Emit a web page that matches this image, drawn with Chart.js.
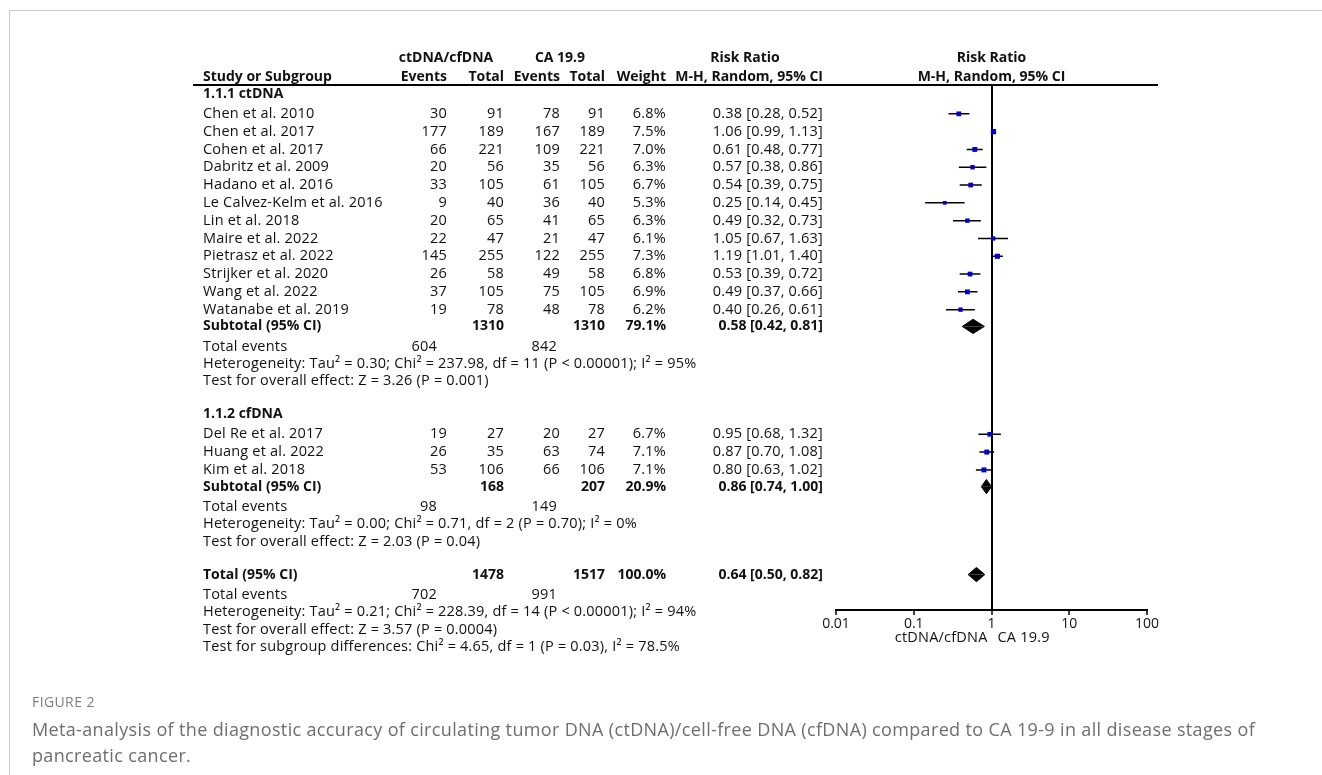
<!DOCTYPE html>
<html>
<head>
<meta charset="utf-8">
<script src="https://cdn.jsdelivr.net/npm/chart.js@4.4.1/dist/chart.umd.min.js"></script>
<style>
  body { margin: 0; background: #fff; }
  #wrap { position: relative; width: 1322px; height: 775px; overflow: hidden; }
  #frame { position: absolute; left: 9px; top: 10px; width: 1320px; height: 770px;
           border-left: 1px solid #c8c8c8; border-top: 1px solid #c8c8c8; }
  canvas { position: absolute; left: 0; top: 0; }
  .fig { position: absolute; left: 32px; top: 694px; font: 14px/16px "Open Sans", sans-serif; letter-spacing: 0.4px; color: #7d7d7d; }
  .cap { position: absolute; left: 32px; top: 716px; font: 18px/26px "Open Sans", sans-serif; letter-spacing: 0.35px; color: #6e6e6e; white-space: nowrap; }
</style>
</head>
<body>
<div id="wrap">
  <div id="frame"></div>
  <canvas id="forest" width="1322" height="775"></canvas>
  <div class="fig">FIGURE 2</div>
  <div class="cap">Meta-analysis of the diagnostic accuracy of circulating tumor DNA (ctDNA)/cell-free DNA (cfDNA) compared to CA 19-9 in all disease stages of<br>pancreatic cancer.</div>
</div>
<script>
// study level data
const groupNames = ['1.1.1 ctDNA', '1.1.2 cfDNA'];
const studies = ['Chen et al. 2010', 'Chen et al. 2017', 'Cohen et al. 2017', 'Dabritz et al. 2009',
  'Hadano et al. 2016', 'Le Calvez-Kelm et al. 2016', 'Lin et al. 2018', 'Maire et al. 2022',
  'Pietrasz et al. 2022', 'Strijker et al. 2020', 'Wang et al. 2022', 'Watanabe et al. 2019',
  'Del Re et al. 2017', 'Huang et al. 2022', 'Kim et al. 2018'];
const studyGroup = [0, 0, 0, 0, 0, 0, 0, 0, 0, 0, 0, 0, 1, 1, 1];
const expEvents = [30, 177, 66, 20, 33, 9, 20, 22, 145, 26, 37, 19, 19, 26, 53];
const expTotal = [91, 189, 221, 56, 105, 40, 65, 47, 255, 58, 105, 78, 27, 35, 106];
const ctrlEvents = [78, 167, 109, 35, 61, 36, 41, 21, 122, 49, 75, 48, 20, 63, 66];
const ctrlTotal = [91, 189, 221, 56, 105, 40, 65, 47, 255, 58, 105, 78, 27, 74, 106];
const weights = [6.8, 7.5, 7.0, 6.3, 6.7, 5.3, 6.3, 6.1, 7.3, 6.8, 6.9, 6.2, 6.7, 7.1, 7.1];
const rr = [0.38, 1.06, 0.61, 0.57, 0.54, 0.25, 0.49, 1.05, 1.19, 0.53, 0.49, 0.40, 0.95, 0.87, 0.80];
const rrLow = [0.28, 0.99, 0.48, 0.38, 0.39, 0.14, 0.32, 0.67, 1.01, 0.39, 0.37, 0.26, 0.68, 0.70, 0.63];
const rrHigh = [0.52, 1.13, 0.77, 0.86, 0.75, 0.45, 0.73, 1.63, 1.40, 0.72, 0.66, 0.61, 1.32, 1.08, 1.02];

// subgroup summaries
const subExpTotal = [1310, 168];
const subCtrlTotal = [1310, 207];
const subWeight = [79.1, 20.9];
const subRR = [0.58, 0.86];
const subLow = [0.42, 0.74];
const subHigh = [0.81, 1.00];
const subExpEvents = [604, 98];
const subCtrlEvents = [842, 149];
const subHet = ['Heterogeneity: Tau² = 0.30; Chi² = 237.98, df = 11 (P < 0.00001); I² = 95%',
  'Heterogeneity: Tau² = 0.00; Chi² = 0.71, df = 2 (P = 0.70); I² = 0%'];
const subTest = ['Test for overall effect: Z = 3.26 (P = 0.001)', 'Test for overall effect: Z = 2.03 (P = 0.04)'];

// overall
const totExpTotal = 1478, totCtrlTotal = 1517, totWeight = 100.0;
const totRR = 0.64, totLow = 0.50, totHigh = 0.82;
const totExpEvents = 702, totCtrlEvents = 991;
const totHet = 'Heterogeneity: Tau² = 0.21; Chi² = 228.39, df = 14 (P < 0.00001); I² = 94%';
const totTest = 'Test for overall effect: Z = 3.57 (P = 0.0004)';
const subgroupTest = 'Test for subgroup differences: Chi² = 4.65, df = 1 (P = 0.03), I² = 78.5%';

const axisTicks = [0.01, 0.1, 1, 10, 100];
const favourLeft = 'ctDNA/cfDNA';
const favourRight = 'CA 19.9';

// row layout (in row units, top to bottom)
const rows = [];
let r = 0.5;
groupNames.forEach((g, gi) => {
  rows.push({ r: r, kind: 'group', gi: gi });
  r += 1.12;
  studies.forEach((s, i) => {
    if (studyGroup[i] === gi) { rows.push({ r: r, kind: 'study', i: i }); r += 1; }
  });
  r -= 0.06;
  rows.push({ r: r, kind: 'subtotal', gi: gi }); r += 1.14;
  rows.push({ r: r, kind: 'events', gi: gi }); r += 0.94;
  rows.push({ r: r, kind: 'het', gi: gi }); r += 1;
  rows.push({ r: r, kind: 'test', gi: gi }); r += 1.86;
});
rows.push({ r: r, kind: 'total' }); r += 1.14;
rows.push({ r: r, kind: 'totEvents' }); r += 0.94;
rows.push({ r: r, kind: 'totHet' }); r += 1;
rows.push({ r: r, kind: 'totTest' }); r += 1;
rows.push({ r: r, kind: 'subgroupTest' });

const fmt2 = v => v.toFixed(2);
const ciText = (e, l, h) => fmt2(e) + ' [' + fmt2(l) + ', ' + fmt2(h) + ']';

// marks
const squares = [];
const ciLines = [];
rows.filter(o => o.kind === 'study').forEach(o => {
  squares.push({ x: rr[o.i], y: o.r });
  ciLines.push({ x: rrLow[o.i], y: o.r }, { x: rrHigh[o.i], y: o.r }, { x: rrHigh[o.i], y: null });
});

const diamondSets = [];
function addDiamond(row, est, lo, hi) {
  const h = 0.4;
  [-h, h].forEach(d => {
    diamondSets.push({
      type: 'line',
      data: [{ x: lo, y: row }, { x: est, y: row + d }, { x: hi, y: row }],
      borderColor: '#000', borderWidth: 1, backgroundColor: '#000',
      pointRadius: 0, tension: 0, fill: { value: row }, order: 1
    });
  });
}
rows.forEach(o => {
  if (o.kind === 'subtotal') addDiamond(o.r, subRR[o.gi], subLow[o.gi], subHigh[o.gi]);
  if (o.kind === 'total') addDiamond(o.r, totRR, totLow, totHigh);
});

const FONT = '"Open Sans", "DejaVu Sans", sans-serif';
const col = { name: 203, expEv: 447, expTot: 504, ctrlEv: 560, ctrlTot: 605, weight: 666, rr: 823 };

const tablePlugin = {
  id: 'forestTable',
  afterDraw(chart) {
    const ctx = chart.ctx;
    const xs = chart.scales.x, ys = chart.scales.y;
    const Y = v => ys.getPixelForValue(v);
    const mid = xs.getPixelForValue(1);
    const area = chart.chartArea;
    ctx.save();
    ctx.fillStyle = '#111';
    ctx.textBaseline = 'middle';
    const txt = (s, x, y, align, bold) => {
      ctx.font = bold ? 'bold 14px ' + FONT : '14.5px ' + FONT;
      ctx.letterSpacing = bold ? '0px' : '0.2px';
      ctx.textAlign = align;
      ctx.fillText(s, x, y);
    };

    // header
    const h1 = Y(-1.52), h2 = Y(-0.45);
    txt('ctDNA/cfDNA', 446, h1, 'center', true);
    txt('CA 19.9', 560, h1, 'center', true);
    txt('Risk Ratio', 745, h1, 'center', true);
    txt('Risk Ratio', mid, h1, 'center', true);
    txt('Study or Subgroup', col.name, h2, 'left', true);
    txt('Events', col.expEv, h2, 'right', true);
    txt('Total', col.expTot, h2, 'right', true);
    txt('Events', col.ctrlEv, h2, 'right', true);
    txt('Total', col.ctrlTot, h2, 'right', true);
    txt('Weight', col.weight, h2, 'right', true);
    txt('M-H, Random, 95% CI', col.rr, h2, 'right', true);
    txt('M-H, Random, 95% CI', mid, h2, 'center', true);

    ctx.strokeStyle = '#000';
    ctx.lineWidth = 2;
    ctx.beginPath();
    ctx.moveTo(193, area.top);
    ctx.lineTo(1158, area.top);
    ctx.stroke();

    rows.forEach(o => {
      const y = Y(o.r);
      if (o.kind === 'group') {
        txt(groupNames[o.gi], col.name, y, 'left', true);
      } else if (o.kind === 'study') {
        const i = o.i;
        txt(studies[i], col.name, y, 'left');
        txt(String(expEvents[i]), col.expEv, y, 'right');
        txt(String(expTotal[i]), col.expTot, y, 'right');
        txt(String(ctrlEvents[i]), col.ctrlEv, y, 'right');
        txt(String(ctrlTotal[i]), col.ctrlTot, y, 'right');
        txt(weights[i].toFixed(1) + '%', col.weight, y, 'right');
        txt(ciText(rr[i], rrLow[i], rrHigh[i]), col.rr, y, 'right');
      } else if (o.kind === 'subtotal') {
        const g = o.gi;
        txt('Subtotal (95% CI)', col.name, y, 'left', true);
        txt(String(subExpTotal[g]), col.expTot, y, 'right', true);
        txt(String(subCtrlTotal[g]), col.ctrlTot, y, 'right', true);
        txt(subWeight[g].toFixed(1) + '%', col.weight, y, 'right', true);
        txt(ciText(subRR[g], subLow[g], subHigh[g]), col.rr, y, 'right', true);
      } else if (o.kind === 'events') {
        txt('Total events', col.name, y, 'left');
        txt(String(subExpEvents[o.gi]), col.expEv - 10, y, 'right');
        txt(String(subCtrlEvents[o.gi]), col.ctrlEv - 3, y, 'right');
      } else if (o.kind === 'het') {
        txt(subHet[o.gi], col.name, y, 'left');
      } else if (o.kind === 'test') {
        txt(subTest[o.gi], col.name, y, 'left');
      } else if (o.kind === 'total') {
        txt('Total (95% CI)', col.name, y, 'left', true);
        txt(String(totExpTotal), col.expTot, y, 'right', true);
        txt(String(totCtrlTotal), col.ctrlTot, y, 'right', true);
        txt(totWeight.toFixed(1) + '%', col.weight, y, 'right', true);
        txt(ciText(totRR, totLow, totHigh), col.rr, y, 'right', true);
      } else if (o.kind === 'totEvents') {
        txt('Total events', col.name, y, 'left');
        txt(String(totExpEvents), col.expEv - 10, y, 'right');
        txt(String(totCtrlEvents), col.ctrlEv - 3, y, 'right');
      } else if (o.kind === 'totHet') {
        txt(totHet, col.name, y, 'left');
      } else if (o.kind === 'totTest') {
        txt(totTest, col.name, y, 'left');
      } else if (o.kind === 'subgroupTest') {
        txt(subgroupTest, col.name, y, 'left');
      }
    });

    // favours labels under the axis
    const fy = area.bottom + 28;
    txt(favourLeft, mid - 4, fy, 'right');
    txt(favourRight, mid + 6, fy, 'left');
    ctx.restore();
  }
};

new Chart(document.getElementById('forest'), {
  type: 'scatter',
  data: {
    datasets: [
      {
        type: 'line', data: ciLines, borderColor: '#000', borderWidth: 1.5,
        pointRadius: 0, spanGaps: false, fill: false, tension: 0, order: 3
      },
      {
        type: 'scatter', data: squares, pointStyle: 'rect',
        pointRadius: c => weights[c.dataIndex] * 0.7 / Math.SQRT2,
        backgroundColor: '#0000cc', borderWidth: 0, order: 0
      },
      ...diamondSets
    ]
  },
  options: {
    responsive: false,
    animation: false,
    layout: { padding: { left: 836, right: 175, top: 85, bottom: 125 } },
    plugins: { legend: { display: false }, tooltip: { enabled: false } },
    scales: {
      x: {
        type: 'logarithmic', min: 0.01, max: 100,
        afterBuildTicks: s => { s.ticks = axisTicks.map(v => ({ value: v })); },
        afterFit: s => { s.height = 40; },
        grid: {
          color: c => (c.tick && c.tick.value === 1) ? '#000' : 'rgba(0,0,0,0)',
          lineWidth: 2, drawTicks: true, tickLength: 5, tickColor: '#000', tickWidth: 1.5
        },
        border: { display: true, color: '#000', width: 2 },
        ticks: {
          callback: v => String(v), autoSkip: false, maxRotation: 0, padding: 1,
          color: '#111', font: { family: FONT, size: 14 }
        }
      },
      y: { type: 'linear', reverse: true, min: 0, max: 29.49, display: false }
    }
  },
  plugins: [tablePlugin]
});
</script>
</body>
</html>
